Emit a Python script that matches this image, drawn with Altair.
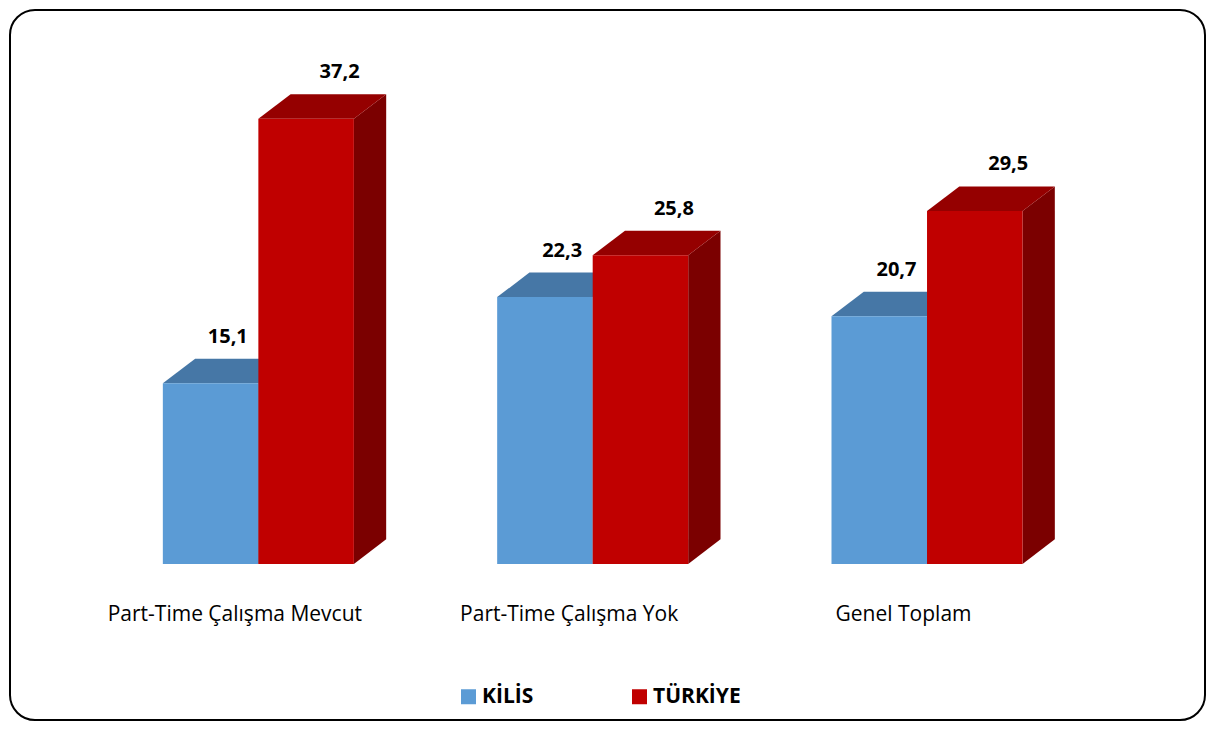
import altair as alt
import pandas as pd

# ---- data -------------------------------------------------------------
CATEGORIES = ["Part-Time Çalışma Mevcut", "Part-Time Çalışma Yok", "Genel Toplam"]
SERIES = ["KİLİS", "TÜRKİYE"]
KILIS = [15.1, 22.3, 20.7]
TURKIYE = [37.2, 25.8, 29.5]

# ---- style / layout ---------------------------------------------------
FRONT = ["#5B9BD5", "#C00000"]
TOP = ["#4677A6", "#950000"]
SIDE = ["#3A5F85", "#7B0000"]
LABEL_SHIFT = {"KİLİS": 0.18, "TÜRKİYE": 0.35}   # label x shift, bar widths
W, H = 1195, 710
GROUP_PITCH = 3.5      # in bar widths
DX = 0.338             # 3D depth, x (bar widths)
DY = 2.05              # 3D depth, y (value units)
X_DOMAIN = [-1.6, 10.91]
Y_DOMAIN = [-13.05, 46.3]
FONT = "Open Sans"

xs = alt.Scale(domain=X_DOMAIN, nice=False, zero=False)
ys = alt.Scale(domain=Y_DOMAIN, nice=False, zero=False)

values = {SERIES[0]: KILIS, SERIES[1]: TURKIYE}
fronts, tops, sides = [], [], []
for g, cat in enumerate(CATEGORIES):
    for s, ser in enumerate(SERIES):
        v = values[ser][g]
        left = g * GROUP_PITCH + s
        right = left + 1
        bid = f"{g}-{s}"
        fronts.append(dict(cat=cat, series=ser, value=v, left=left, right=right,
                           lx=left + 0.5 + LABEL_SHIFT[ser], back=v + DY, bar=bid))
        tops.append(dict(series=ser, bar=bid, y=v, xl=left, xr=right))
        tops.append(dict(series=ser, bar=bid, y=v + DY, xl=left + DX, xr=right + DX))
        sides.append(dict(series=ser, bar=bid, x=right, y0=0, y1=v))
        sides.append(dict(series=ser, bar=bid, x=right + DX, y0=DY, y1=v + DY))

fronts = pd.DataFrame(fronts)
tops = pd.DataFrame(tops)
sides = pd.DataFrame(sides)
cats = pd.DataFrame({"cat": CATEGORIES,
                     "gx": [g * GROUP_PITCH + 1 for g in range(len(CATEGORIES))]})

side = alt.Chart(sides).mark_area(orient="vertical", opacity=1).encode(
    x=alt.X("x:Q", scale=xs, axis=None),
    y=alt.Y("y1:Q", scale=ys, axis=None),
    y2="y0:Q",
    color=alt.Color("series:N", scale=alt.Scale(domain=SERIES, range=SIDE), legend=None),
    detail="bar:N",
)

top = alt.Chart(tops).mark_area(orient="horizontal", opacity=1).encode(
    y=alt.Y("y:Q", scale=ys, axis=None),
    x=alt.X("xl:Q", scale=xs, axis=None),
    x2="xr:Q",
    color=alt.Color("series:N", scale=alt.Scale(domain=SERIES, range=TOP), legend=None),
    detail="bar:N",
)

front = alt.Chart(fronts).transform_calculate(base="0").mark_rect().encode(
    x=alt.X("left:Q", scale=xs, axis=None),
    x2="right:Q",
    y=alt.Y("base:Q", scale=ys, axis=None),
    y2="value:Q",
    color=alt.Color(
        "series:N",
        scale=alt.Scale(domain=SERIES, range=FRONT),
        legend=alt.Legend(
            title=None, orient="none", legendX=448, legendY=676,
            direction="horizontal", symbolType="square", symbolSize=225,
            symbolStrokeWidth=0, symbolOpacity=1, labelFont=FONT, labelFontSize=21,
            labelFontWeight="bold", labelColor="black", labelOffset=3,
            columnPadding=95, padding=0,
        ),
    ),
)

labels = alt.Chart(fronts).transform_calculate(
    txt="replace(format(datum.value, '.1f'), '.', ',')"
).mark_text(font=FONT, fontSize=20, fontWeight="bold", color="black",
            align="center", baseline="alphabetic", dy=-16).encode(
    x=alt.X("lx:Q", scale=xs, axis=None),
    y=alt.Y("back:Q", scale=ys, axis=None),
    text="txt:N",
)

catlabels = alt.Chart(cats).transform_calculate(base="0").mark_text(
    font=FONT, fontSize=21, color="black", align="center",
    baseline="alphabetic", dx=-23.5, dy=57).encode(
    x=alt.X("gx:Q", scale=xs, axis=None),
    y=alt.Y("base:Q", scale=ys, axis=None),
    text="cat:N",
)

chart = alt.layer(side, top, front, labels, catlabels).resolve_scale(
    color="independent"
).properties(
    width=W, height=H, padding=2,
    autosize=alt.AutoSizeParams(type="none"),
    background="white",
).configure_view(stroke="black", strokeWidth=2, cornerRadius=25)

chart.save("out.html", embed_options={"renderer": "svg", "actions": False})
